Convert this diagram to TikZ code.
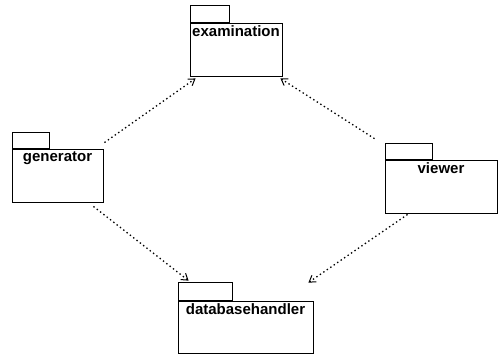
\documentclass[tikz,border=0pt]{standalone}
\usepackage{fontspec}
\setmainfont{Liberation Sans}
\usetikzlibrary{positioning,arrows.meta}

\begin{document}
\begin{tikzpicture}[x=1pt, y=-1pt,
  pkg/.style={rectangle, draw, line width=0.9pt, inner sep=0pt},
  pkgtab/.style={rectangle, draw, line width=0.9pt, inner sep=0pt},
  pkgname/.style={anchor=north, font=\fontsize{15}{17}\selectfont\bfseries},
  dep/.style={-{Straight Barb[length=6pt, width=8pt, line width=1pt]}, dash pattern=on 1.4pt off 2.8pt, line width=1.3pt}]

\useasboundingbox (0,0) rectangle (499,356);

% Package examination (top)
\node (examination) [pkg, minimum width=92pt, minimum height=53pt, label={[pkgname]north:examination}] at (236,49.5) {};
\node (examination_tab) [pkgtab, minimum width=39pt, minimum height=17pt, above right=0pt and 0pt of examination.north west] {};

% Package generator (left)
\node (generator) [pkg, minimum width=91pt, minimum height=53pt, label={[pkgname]north:generator}] at (57.5,175.5) {};
\node (generator_tab) [pkgtab, minimum width=37pt, minimum height=16pt, above right=0pt and 0pt of generator.north west] {};

% Package viewer (right)
\node (viewer) [pkg, minimum width=112pt, minimum height=53pt, label={[pkgname]north:viewer}] at (441,186.5) {};
\node (viewer_tab) [pkgtab, minimum width=47pt, minimum height=16pt, above right=0pt and 0pt of viewer.north west] {};

% Package databasehandler (bottom)
\node (databasehandler) [pkg, minimum width=135pt, minimum height=52pt, label={[pkgname]north:databasehandler}] at (245.5,327) {};
\node (databasehandler_tab) [pkgtab, minimum width=54pt, minimum height=18pt, above right=0pt and 0pt of databasehandler.north west] {};

% Dependencies
\draw[dep] ([xshift=1pt, yshift=6pt]generator.north east) -- ([xshift=6pt, yshift=-2pt]examination.south west);
\draw[dep] ([xshift=-10pt, yshift=4pt]viewer_tab.north west) -- ([xshift=-2pt, yshift=-2pt]examination.south east);
\draw[dep] ([xshift=-10pt, yshift=-4pt]generator.south east) -- ([xshift=11pt, yshift=1pt]databasehandler_tab.north west);
\draw[dep] ([xshift=23pt, yshift=-1pt]viewer.south west) -- ([xshift=-5pt, yshift=18pt]databasehandler.north east);

\end{tikzpicture}
\end{document}
